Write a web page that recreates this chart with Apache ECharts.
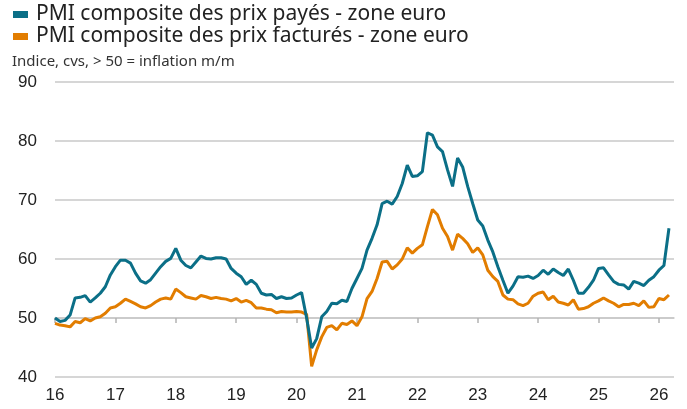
<!DOCTYPE html>
<html>
<head>
<meta charset="utf-8">
<script src="https://cdn.jsdelivr.net/npm/echarts@6/dist/echarts.min.js"></script>
<style>
  html, body { margin: 0; padding: 0; background: #fff; }
  #chart { width: 687px; height: 409px; }
</style>
</head>
<body>
<div id="chart"></div>
<script>
// mois de janv. 2016 à avr. 2026 (le dernier reste vide)
const months = [];
for (let y = 2016; y <= 2026; y++) {
  for (let m = 1; m <= 12; m++) {
    if (y === 2026 && m > 4) break;
    months.push(y + '-' + String(m).padStart(2, '0'));
  }
}

const prixPayes = [
  50.0, 49.4, 49.6, 50.5, 53.4, 53.5, 53.8, 52.7, 53.4, 54.2, 55.3, 57.3,
  58.7, 59.8, 59.8, 59.3, 57.6, 56.3, 55.9, 56.5, 57.6, 58.7, 59.6, 60.1,
  61.8, 59.8, 58.9, 58.5, 59.5, 60.5, 60.1, 60.0, 60.2, 60.2, 60.0, 58.4,
  57.6, 57.0, 55.7, 56.4, 55.7, 54.2, 53.9, 54.0, 53.3, 53.6, 53.3, 53.4,
  53.9, 54.3, 50.0, 44.9, 46.5, 50.2, 51.1, 52.5, 52.4, 53.0, 52.8, 55.0,
  56.7, 58.4, 61.5, 63.5, 65.8, 69.4, 69.8, 69.3, 70.6, 72.8, 75.9, 74.0,
  74.1, 74.8, 81.4, 81.0, 79.0, 78.2, 75.1, 72.3, 77.1, 75.6, 72.3, 69.4,
  66.6, 65.6, 63.2, 61.2, 58.7, 56.4, 54.2, 55.4, 57.0, 56.9, 57.1, 56.7,
  57.2, 58.1, 57.4, 58.3, 57.7, 57.2, 58.3, 56.4, 54.2, 54.2, 55.2, 56.4,
  58.4, 58.5, 57.3, 56.2, 55.7, 55.6, 54.9, 56.2, 55.9, 55.5, 56.4, 57.0,
  58.1, 58.9, 65.2
];

const prixFactures = [
  49.1, 48.8, 48.7, 48.5, 49.4, 49.2, 49.9, 49.5, 50.0, 50.2, 50.8, 51.7,
  51.9, 52.5, 53.2, 52.8, 52.4, 51.9, 51.7, 52.1, 52.7, 53.2, 53.4, 53.2,
  54.9, 54.3, 53.6, 53.4, 53.2, 53.8, 53.6, 53.3, 53.5, 53.3, 53.2, 52.9,
  53.3, 52.7, 53.0, 52.6, 51.7, 51.7, 51.5, 51.4, 50.9, 51.1, 51.0, 51.0,
  51.1, 51.0, 50.6, 41.8, 44.6, 46.8, 48.4, 48.7, 48.0, 49.1, 48.9, 49.5,
  48.7, 50.2, 53.3, 54.5, 56.7, 59.5, 59.6, 58.3, 59.0, 60.0, 61.9, 61.0,
  61.8, 62.4, 65.5, 68.4, 67.5, 65.2, 63.8, 61.5, 64.2, 63.5, 62.6, 61.1,
  61.9, 60.7, 58.1, 57.0, 56.2, 53.9, 53.2, 53.1, 52.4, 52.1, 52.5, 53.7,
  54.2, 54.4, 53.1, 53.7, 52.7, 52.5, 52.2, 53.1, 51.5, 51.6, 51.9, 52.5,
  52.9, 53.4, 52.9, 52.5, 51.9, 52.3, 52.3, 52.5, 52.1, 52.9, 51.8, 51.9,
  53.3, 53.1, 53.9
];

const yTicks = [40, 50, 60, 70, 80, 90];

const legendNames = [
  'PMI composite des prix payés - zone euro',
  'PMI composite des prix facturés - zone euro'
];

const chart = echarts.init(document.getElementById('chart'));

chart.setOption({
  animation: false,
  textStyle: { fontFamily: 'Liberation Sans, Arial, sans-serif' },
  title: {
    text: 'Indice, cvs, > 50 = inflation m/m',
    left: 12,
    top: 54,
    padding: 0,
    textStyle: {
      fontFamily: 'Noto Sans',
      fontSize: 15,
      fontWeight: 'normal',
      color: '#333'
    }
  },
  legend: {
    orient: 'vertical',
    left: 13,
    top: 4,
    padding: 0,
    itemGap: 1,
    itemWidth: 15,
    itemHeight: 7,
    icon: 'rect',
    textStyle: {
      fontFamily: 'Noto Sans',
      fontSize: 21,
      color: '#222',
      padding: [0, 0, 0, 3]
    },
    data: legendNames
  },
  grid: [
    { left: 55, right: 13, top: 82, bottom: 32 },
    // grille fantôme dont le bas tombe sur le niveau 50 : porte les ticks
    { left: 55, right: 13, top: 82, bottom: 91 }
  ],
  xAxis: [
    {
      type: 'category',
      gridIndex: 0,
      data: months,
      boundaryGap: false,
      axisLine: { show: false },
      axisTick: { show: false },
      splitLine: { show: false },
      axisLabel: {
        interval: 11,
        formatter: (v) => v.slice(2, 4),
        fontSize: 17,
        color: '#222',
        margin: 10
      }
    },
    {
      type: 'category',
      gridIndex: 1,
      data: months,
      boundaryGap: false,
      axisLine: { show: true, lineStyle: { color: '#c8c8c8', width: 1.5 } },
      // étiquettes transparentes : sans elles les ticks ne sont pas dessinés
      axisLabel: {
        show: true,
        interval: 11,
        fontSize: 8,
        color: 'rgba(0,0,0,0)'
      },
      splitLine: { show: false },
      axisTick: {
        show: true,
        interval: 11,
        length: 5,
        lineStyle: { color: '#b4b4b4', width: 1.5 }
      }
    }
  ],
  yAxis: [
    {
      type: 'value',
      gridIndex: 0,
      min: yTicks[0],
      max: yTicks[yTicks.length - 1],
      interval: 10,
      axisLine: { show: false },
      axisTick: { show: false },
      axisLabel: { fontSize: 17, color: '#222', margin: 18 },
      splitLine: { lineStyle: { color: '#c8c8c8', width: 1.5 } }
    },
    {
      type: 'value',
      gridIndex: 1,
      axisLine: { show: false },
      axisTick: { show: false },
      axisLabel: { show: false },
      splitLine: { show: false }
    }
  ],
  series: [
    {
      name: legendNames[0],
      type: 'line',
      data: prixPayes,
      showSymbol: false,
      color: '#0b6f87',
      lineStyle: { width: 3, color: '#0b6f87' },
      z: 3
    },
    {
      name: legendNames[1],
      type: 'line',
      data: prixFactures,
      showSymbol: false,
      color: '#e27d00',
      lineStyle: { width: 3, color: '#e27d00' },
      z: 2
    },
    {
      // série vide : active la grille des ticks
      type: 'line',
      xAxisIndex: 1,
      yAxisIndex: 1,
      data: [],
      silent: true
    }
  ]
});
</script>
</body>
</html>
